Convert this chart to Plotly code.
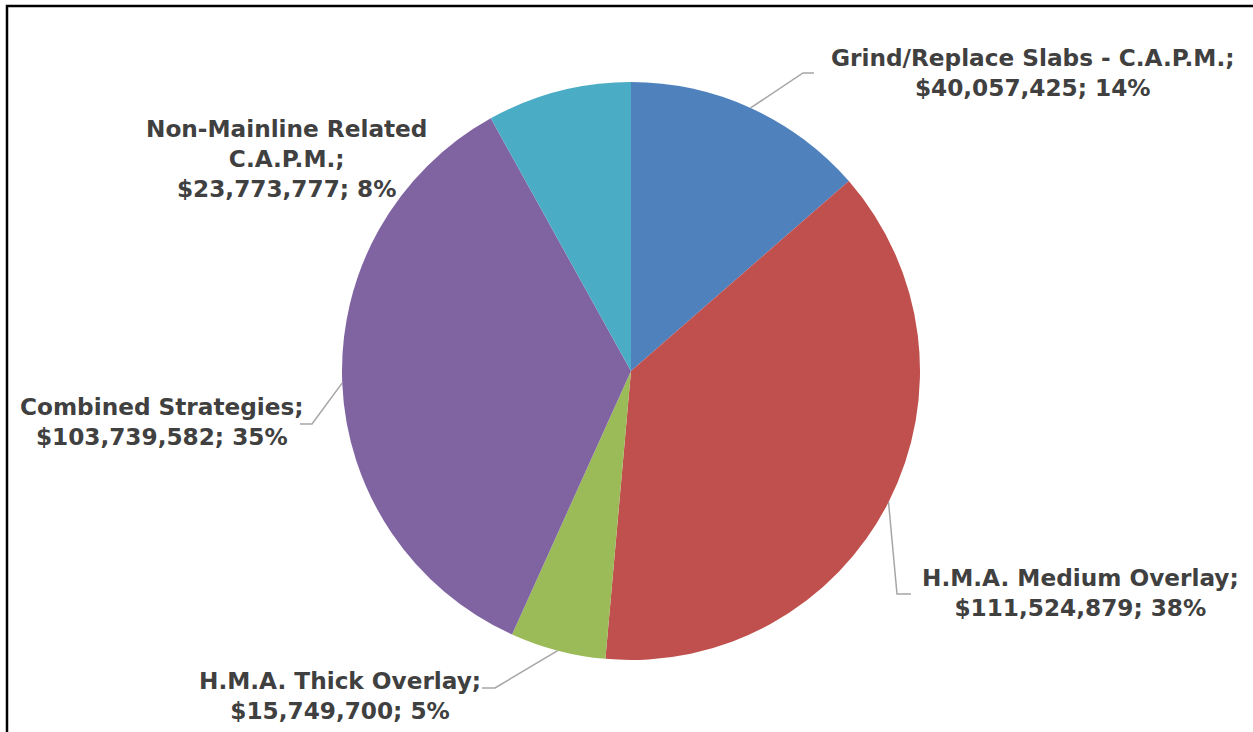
import numpy as np
import plotly.graph_objects as go

# ── Data ────────────────────────────────────────────────
categories = [
    "Grind/Replace Slabs - C.A.P.M.",
    "H.M.A. Medium Overlay",
    "H.M.A. Thick Overlay",
    "Combined Strategies",
    "Non-Mainline Related C.A.P.M.",
]
label_names = [
    "Grind/Replace Slabs - C.A.P.M.;",
    "H.M.A. Medium Overlay;",
    "H.M.A. Thick Overlay;",
    "Combined Strategies;",
    "Non-Mainline Related<br>C.A.P.M.;",
]
costs = [40057425, 111524879, 15749700, 103739582, 23773777]
colors = ["#4F81BD", "#C0504D", "#9BBB59", "#8064A2", "#4BACC6"]

# ── Layout (pixels) ─────────────────────────────────────
W, H = 1253, 732
CX, CY, R = 631, 371, 289
label_pos = [(1032, 72), (1080, 592), (340, 695), (162, 421), (286, 158)]
# elbow x, elbow y, end x of each leader line (None = no line)
leaders = [(803, 73, 814), (897, 594, 911), (495, 688, 482), (312, 424, 300), None]
FONT = dict(family="DejaVu Sans", size=23.2, color="#404040")


def px(x):
    return x / W


def py(y):
    return 1 - y / H


total = sum(costs)
shares = np.array(costs) / total
mid = np.cumsum(shares) - shares / 2

fig = go.Figure(go.Pie(
    labels=categories, values=costs, sort=False,
    direction="clockwise", rotation=0,
    marker=dict(colors=colors, line=dict(width=0)),
    textinfo="none", showlegend=False,
    domain=dict(x=[px(CX - R), px(CX + R)], y=[py(CY + R), py(CY - R)]),
))

for i, name in enumerate(label_names):
    pct = round(shares[i] * 100)
    text = f"<b>{name}<br>${costs[i]:,}; {pct}%</b>"
    lx, ly = label_pos[i]
    fig.add_annotation(text=text, x=px(lx), y=py(ly), xref="paper", yref="paper",
                       xanchor="center", yanchor="middle", showarrow=False,
                       align="center", font=FONT)
    if leaders[i]:
        ang = mid[i] * 2 * np.pi
        sx, sy = CX + R * np.sin(ang), CY - R * np.cos(ang)
        ex, ey, tx = leaders[i]
        fig.add_shape(type="path", xref="paper", yref="paper",
                      path=f"M {px(sx)},{py(sy)} L {px(ex)},{py(ey)} L {px(tx)},{py(ey)}",
                      line=dict(color="#A6A6A6", width=1.5))

# chart frame (cut by the picture on the right and bottom)
fig.add_shape(type="rect", xref="paper", yref="paper",
              x0=px(7), x1=px(W + 20), y0=py(H + 20), y1=py(6),
              line=dict(color="#000000", width=2.5))

fig.update_layout(
    width=W, height=H,
    margin=dict(l=0, r=0, t=0, b=0),
    paper_bgcolor="white", plot_bgcolor="white",
)
fig.write_html("out.html", config={"displayModeBar": False},
               post_script="document.body.style.margin='0';")
